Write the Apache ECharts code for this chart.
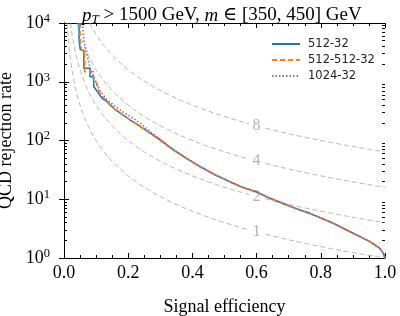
<!DOCTYPE html>
<html><head><meta charset="utf-8">
<script src="https://cdn.jsdelivr.net/npm/echarts@6/dist/echarts.min.js"></script>
<style>html,body{margin:0;padding:0;background:#fff}#c{width:400px;height:316px}</style>
</head><body><div id="c"></div>
<script>
// ---- data ----
const SERIES_NAMES = ['512-32', '512-512-32', '1024-32'];
const SERIES_COLORS = ['#1f77b4', '#ff7f0e', '#9467bd'];

const EFF_A = [0.047,0.047,0.051,0.062,0.062,0.081,0.081,0.092,0.093,0.104,0.119,0.135,0.156,0.171,0.187,0.205,0.239,0.270,0.300,0.340,0.380,0.424,0.465,0.507,0.550,0.600,0.640,0.683,0.720,0.766,0.800,0.839,0.870,0.901,0.930,0.953,0.970,0.984,0.995,1.000];
const REJ_A = [10000,5000,3500,3400,1700,1700,1220,1220,820,680,520,455,350,305,265,225,172,132,102,70,50,36,27,21,16.5,13.3,10.5,8.5,7.0,5.75,4.8,3.9,3.2,2.63,2.2,1.9,1.65,1.46,1.2,1.0];

const EFF_B = [0.050,0.050,0.055,0.064,0.064,0.092,0.092,0.100,0.109,0.125,0.145,0.161,0.182,0.208,0.240,0.270,0.300,0.340,0.380,0.424,0.465,0.507,0.550,0.600,0.640,0.683,0.720,0.766,0.800,0.839,0.870,0.901,0.930,0.953,0.970,0.984,0.995,1.000];
const REJ_B = [10000,5000,3400,3400,1490,1490,1100,1000,677,522,390,330,272,223,168,130,100,69,50,35.5,27,21,16.3,13.1,10.4,8.4,7.0,5.7,4.8,3.9,3.2,2.62,2.2,1.9,1.65,1.46,1.2,1.0];

const EFF_C = [0.057,0.062,0.073,0.083,0.099,0.114,0.135,0.156,0.182,0.208,0.239,0.270,0.300,0.340,0.380,0.424,0.465,0.507,0.550,0.600,0.640,0.683,0.720,0.766,0.800,0.839,0.870,0.901,0.930,0.953,0.970,0.984,0.995,1.000];
const REJ_C = [10000,5130,2670,1590,1005,677,490,398,309,254,195,140,104,71,51,36,27,21,16.5,13.3,10.5,8.5,7.0,5.75,4.8,3.9,3.2,2.63,2.2,1.9,1.65,1.46,1.2,1.0];

// iso-significance guide curves: rejection = k^2 / eff^2
const SIG_LEVELS = [1, 2, 4, 8];
const SIG_LABEL_EFF = 0.6;
const X_TICKS = [0, 0.2, 0.4, 0.6, 0.8, 1.0];
const Y_DECADES = [1, 10, 100, 1000, 10000];

// ---- build ----
const SERIF = '"Liberation Serif", "DejaVu Serif", serif';
function pairs(xs, ys) { return xs.map((x, i) => [x, ys[i]]); }

const minorLog = [];
for (let d = 0; d < 4; d++) for (let m = 2; m <= 9; m++) minorLog.push(d + Math.log10(m));

function contourPart(k, e0, e1) {
  const pts = [];
  const n = 60;
  for (let i = 0; i <= n; i++) {
    const e = e0 * Math.pow(e1 / e0, i / n);
    pts.push([e, k * k / (e * e)]);
  }
  return pts;
}

const series = [];
SIG_LEVELS.forEach(k => {
  const style = { color: '#a3a3a3', width: 0.8, type: [5, 3] };
  series.push({ type: 'line', data: contourPart(k, k / 100, 0.576), showSymbol: false, symbol: 'none', lineStyle: style, silent: true, z: 1, clip: true });
  series.push({ type: 'line', data: contourPart(k, 0.628, 1.0), showSymbol: false, symbol: 'none', lineStyle: style, silent: true, z: 1, clip: true });
});
series.push({
  type: 'scatter', symbolSize: 0, silent: true, z: 1,
  data: SIG_LEVELS.map(k => [SIG_LABEL_EFF, k * k / (SIG_LABEL_EFF * SIG_LABEL_EFF), k]),
  label: { show: true, position: 'inside', formatter: p => String(p.data[2]), color: '#a0a0a0', fontSize: 16, fontFamily: SERIF }
});

const curveData = [pairs(EFF_A, REJ_A), pairs(EFF_B, REJ_B), pairs(EFF_C, REJ_C)];
const curveTypes = ['solid', [5, 3], [1.5, 2]];
SERIES_NAMES.forEach((name, i) => {
  series.push({
    name, type: 'line', data: curveData[i], symbol: 'none', showSymbol: false,
    lineStyle: { color: SERIES_COLORS[i], width: 1.6, type: curveTypes[i] },
    itemStyle: { color: SERIES_COLORS[i] }, z: 3 + i, clip: true
  });
});

const axisLineStyle = { show: true, lineStyle: { color: '#000', width: 1 } };
const majTick = { show: true, inside: true, length: 5, lineStyle: { color: '#000', width: 1 } };
const minTickX = { show: true, splitNumber: 4, length: 3, lineStyle: { color: '#000', width: 1 } };

const xBase = {
  type: 'value', min: 0, max: 1, interval: 0.2,
  axisLine: axisLineStyle, axisTick: majTick, minorTick: minTickX, splitLine: { show: false }
};
const yLogBase = {
  type: 'log', logBase: 10, min: Y_DECADES[0], max: Y_DECADES[Y_DECADES.length - 1],
  axisLine: axisLineStyle, axisTick: majTick, splitLine: { show: false }, minorTick: { show: false }
};
const yMinorBase = {
  type: 'value', min: 0, max: 4, gridIndex: 1, axisLine: { show: false }, axisLabel: { show: false }, splitLine: { show: false },
  axisTick: { show: true, inside: true, length: 3, lineStyle: { color: '#000', width: 1 }, customValues: minorLog }
};
const gridRect = { left: 64, right: 15, top: 23, bottom: 58, containLabel: false, outerBoundsMode: 'none' };

const option = {
  animation: false,
  backgroundColor: '#fff',
  title: {
    text: '{i|p}{sub|T}{n| > 1500 GeV, }{i|m}{n| ∈ [350, 450] GeV}',
    left: 77, top: 0,
    textStyle: {
      fontWeight: 'normal',
      rich: {
        n: { fontFamily: SERIF, fontSize: 19, fontWeight: 'normal', color: '#000' },
        i: { fontFamily: SERIF, fontSize: 19, fontWeight: 'normal', fontStyle: 'italic', color: '#000' },
        sub: { fontFamily: SERIF, fontSize: 13, fontWeight: 'normal', fontStyle: 'italic', color: '#000', padding: [8, 0, 0, 0] }
      }
    }
  },
  legend: {
    data: SERIES_NAMES, orient: 'vertical', left: 266, top: 33,
    itemWidth: 28, itemHeight: 14, itemGap: 4,
    itemStyle: { opacity: 0 },
    textStyle: { fontFamily: '"DejaVu Sans", sans-serif', fontSize: 11.5, color: '#222', padding: [0, 0, 0, 3] }
  },
  grid: [Object.assign({}, gridRect), Object.assign({}, gridRect)],
  xAxis: [
    Object.assign({}, xBase, {
      position: 'bottom', name: 'Signal efficiency', nameLocation: 'middle', nameGap: 40,
      nameTextStyle: { fontFamily: SERIF, fontSize: 18, color: '#000' },
      axisLabel: { show: true, margin: 6, fontFamily: SERIF, fontSize: 18, color: '#000', formatter: v => v.toFixed(1) }
    }),
    Object.assign({}, xBase, { position: 'top', axisLabel: { show: false } }),
    { type: 'value', gridIndex: 1, min: 0, max: 1, show: false }
  ],
  yAxis: [
    Object.assign({}, yLogBase, {
      position: 'left', name: 'QCD rejection rate', nameLocation: 'middle', nameGap: 46,
      nameTextStyle: { fontFamily: SERIF, fontSize: 18, color: '#000' },
      axisLabel: {
        show: true, margin: 14,
        formatter: v => '{b|10}{s|' + Math.round(Math.log10(v)) + '}',
        rich: {
          b: { fontFamily: SERIF, fontSize: 18, color: '#000' },
          s: { fontFamily: SERIF, fontSize: 12.5, color: '#000', padding: [0, 0, 9, 0] }
        }
      }
    }),
    Object.assign({}, yLogBase, { position: 'right', axisLabel: { show: false } }),
    Object.assign({}, yMinorBase, { position: 'left' }),
    Object.assign({}, yMinorBase, { position: 'right' })
  ],
  series
};
echarts.init(document.getElementById('c'), null, { renderer: 'canvas' }).setOption(option);
</script></body></html>
